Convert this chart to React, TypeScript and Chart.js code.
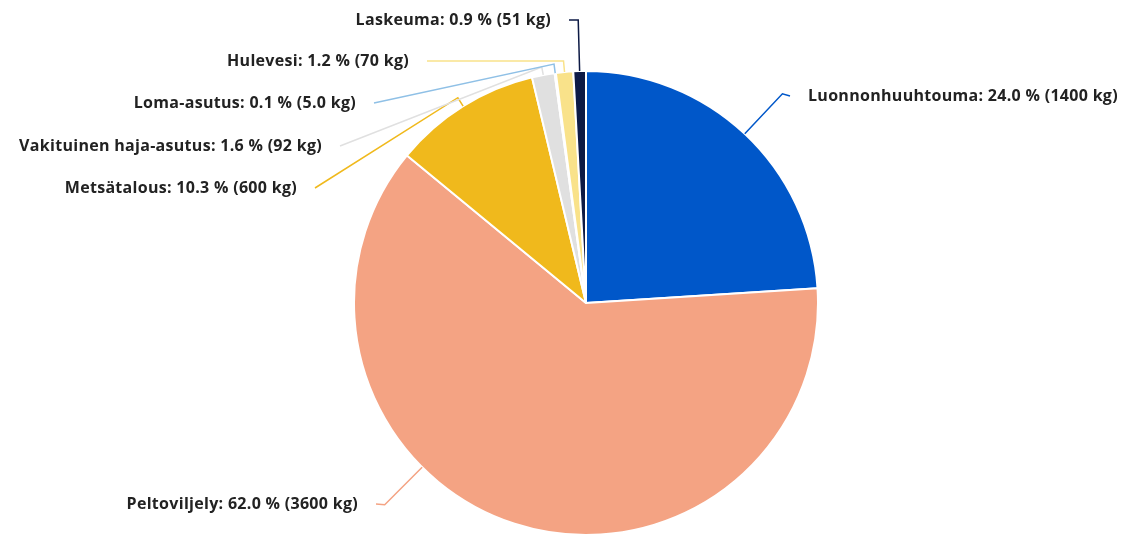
import React, { useEffect, useRef } from "react";
import { Chart, registerables } from "chart.js";

Chart.register(...registerables);

const categories = [
  "Luonnonhuuhtouma",
  "Peltoviljely",
  "Metsätalous",
  "Vakituinen haja-asutus",
  "Loma-asutus",
  "Hulevesi",
  "Laskeuma",
];
const valuesKg = [1399, 3614, 600, 92, 5, 70, 51];
const sliceColors = ["#0057C9", "#F4A383", "#F0B91C", "#E0E0E0", "#8FC0E6", "#F9E28A", "#0D1A45"];

function fmtKg(v: number): string {
  if (v < 10) return v.toFixed(1);
  return String(Number(v.toPrecision(2)));
}

// label layout (annotation placement only)
const labelLayout = [
  { side: "right", labelY: 96, ext: 55, endX: 790 },
  { side: "left", labelY: 504, ext: 53, endX: 376, frac: 0.621 },
  { side: "left", labelY: 188, ext: 10, endX: 315 },
  { side: "left", labelY: 146, ext: 8, endX: 340 },
  { side: "left", labelY: 103, ext: 9, endX: 374 },
  { side: "left", labelY: 61, ext: 11, endX: 427 },
  { side: "left", labelY: 20, ext: 51, endX: 569 },
];

const leaderPlugin = {
  id: "leaderLabels",
  afterDatasetsDraw(chart: any) {
    const ctx = chart.ctx;
    const meta = chart.getDatasetMeta(0);
    const data = chart.data.datasets[0].data as number[];
    const total = data.reduce((a, b) => a + b, 0);
    ctx.save();
    meta.data.forEach((arc: any, i: number) => {
      const L = labelLayout[i];
      const { x, y, startAngle, endAngle, outerRadius } = arc.getProps(
        ["x", "y", "startAngle", "endAngle", "outerRadius"],
        true
      );
      const f = L.frac !== undefined ? L.frac : 0.5;
      const a = startAngle + (endAngle - startAngle) * f;
      const ax = x + outerRadius * Math.cos(a);
      const ay = y + outerRadius * Math.sin(a);
      const ex = x + (outerRadius + L.ext) * Math.cos(a);
      const ey = y + (outerRadius + L.ext) * Math.sin(a);
      ctx.strokeStyle = sliceColors[i];
      ctx.lineWidth = 1.5;
      ctx.beginPath();
      ctx.moveTo(ax, ay);
      ctx.lineTo(ex, ey);
      ctx.lineTo(L.endX, L.labelY);
      ctx.stroke();
      const pct = ((data[i] / total) * 100).toFixed(1);
      const text = `${categories[i]}: ${pct} % (${fmtKg(data[i])} kg)`;
      ctx.fillStyle = "#222222";
      ctx.font = "bold 16px 'Open Sans'";
      try {
        (ctx as any).letterSpacing = "0.3px";
      } catch (e) {}
      ctx.textBaseline = "middle";
      if (L.side === "left") {
        ctx.textAlign = "right";
        ctx.fillText(text, L.endX - 18, L.labelY);
      } else {
        ctx.textAlign = "left";
        ctx.fillText(text, L.endX + 18, L.labelY);
      }
    });
    ctx.restore();
  },
};

export default function App() {
  const ref = useRef<HTMLCanvasElement | null>(null);
  useEffect(() => {
    document.body.style.margin = "0";
    const chart = new Chart(ref.current as HTMLCanvasElement, {
      type: "pie",
      data: {
        labels: categories,
        datasets: [
          {
            data: valuesKg,
            backgroundColor: sliceColors,
            borderColor: "#ffffff",
            borderWidth: 2,
          },
        ],
      },
      options: {
        animation: false,
        responsive: false,
        layout: { padding: { top: 70, bottom: 1, left: 43, right: 0 } },
        plugins: {
          legend: { display: false },
          tooltip: { enabled: false },
        },
      },
      plugins: [leaderPlugin],
    });
    return () => chart.destroy();
  }, []);
  return (
    <div style={{ position: "absolute", left: 0, top: 0, width: 1129, height: 537, background: "#fff" }}>
      <canvas ref={ref} width={1129} height={537} />
    </div>
  );
}
